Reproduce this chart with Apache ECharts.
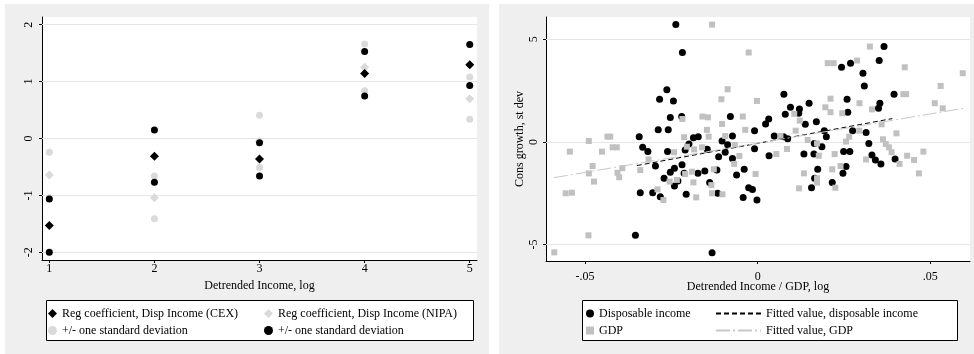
<!DOCTYPE html>
<html>
<head>
<meta charset="utf-8">
<script src="https://cdn.jsdelivr.net/npm/echarts@6/dist/echarts.min.js"></script>
<style>
  html, body { margin: 0; padding: 0; background: #fff; }
  #chart { width: 974px; height: 354px; }
</style>
</head>
<body>
<div id="chart"></div>
<script>
// left panel: regression coefficients by income quintile
const levels = [1, 2, 3, 4, 5];
const cexCoef = [-1.53, -0.31, -0.36, 1.14, 1.295];
const cexUpper = [-1.065, 0.15, -0.076, 1.53, 1.65];
const cexLower = [-2.0, -0.77, -0.66, 0.745, 0.93];
const nipaCoef = [-0.64, -1.04, -0.05, 1.25, 0.70];
const nipaUpper = [-0.24, -0.66, 0.41, 1.66, 1.08];
const nipaLower = [-1.04, -1.41, -0.51, 0.84, 0.34];
const leftYTicks = [-2, -1, 0, 1, 2];

// right panel: scatter of consumption growth vs detrended income
const dispX = [-0.0237,-0.0218,-0.0263,-0.0284,-0.0244,-0.022,-0.0253,-0.0288,-0.0259,-0.0343,
  -0.0333,-0.0318,-0.0261,-0.0296,-0.0271,-0.0253,-0.0241,-0.0231,-0.0241,-0.0219,
  -0.0213,-0.034,-0.0304,-0.0282,-0.0207,-0.0354,-0.0132,-0.021,-0.0199,-0.0186,
  -0.0172,-0.0173,-0.0153,-0.0146,-0.0139,-0.0118,-0.0113,-0.0116,-0.0103,-0.0094,
  -0.0087,-0.0079,-0.0073,-0.0073,-0.0061,-0.0042,-0.0039,-0.0026,-0.0015,-0.0009,
  -0.0009,-0.0002,0.0023,0.0032,0.0033,0.0048,0.0076,0.008,0.0075,0.0087,
  0.0095,0.0121,0.0119,0.0138,0.0149,0.0134,0.0156,0.0163,0.0164,0.017,
  0.0174,0.0165,0.0186,0.0193,0.0199,0.0216,0.0243,0.0269,0.0259,0.0261,
  0.0249,0.0267,0.0256,0.0247,0.0275,0.0305,0.0309,0.0314,0.0322,0.0331,
  0.0341,0.0357,0.0352,0.0366,0.0354,0.035,0.0395,0.0398];
const dispY = [5.72,4.36,2.54,2.08,2.0,1.24,1.19,0.59,0.59,0.26,
  -0.26,-0.47,-0.46,-1.17,-1.77,-1.48,-1.28,-1.90,-2.15,-1.11,
  -1.53,-2.47,-2.47,-2.67,-2.55,-4.55,-5.40,-0.39,-0.10,0.21,
  0.26,-1.53,-1.41,-0.36,-1.97,-1.37,-0.72,-2.50,0.05,-0.50,
  -0.13,1.24,0.29,-0.80,-1.61,-2.70,-1.33,-2.23,-2.31,0.55,
  -0.33,-2.83,0.88,1.12,-0.67,0.29,2.33,1.35,0.26,0.16,
  1.69,1.61,1.40,0.86,1.89,-0.59,-2.23,-0.59,-0.07,0.99,
  -1.33,-1.77,-0.23,0.55,0.26,-1.97,3.64,3.84,2.08,1.45,
  -0.47,-0.47,-1.20,-1.53,0.55,3.35,2.73,0.46,-0.07,-0.63,
  -0.88,-1.07,3.97,4.65,1.89,1.64,2.33,-0.83];
const gdpX = [-0.0589,-0.049,-0.0132,-0.0026,0.0325,0.0203,0.022,0.0288,0.0426,0.0594,
  0.053,0.0422,0.043,0.0513,0.0536,0.0331,0.0295,0.0211,0.0196,0.0211,
  0.0245,0.0359,0.0402,0.0294,0.0265,0.0256,0.0363,0.0371,0.038,0.0388,
  0.0433,0.0453,0.048,0.0411,0.0467,0.0314,0.0223,0.0216,0.024,0.0225,
  0.0172,0.0172,0.0177,0.0145,0.0172,0.0134,0.012,0.011,0.0106,0.0122,
  0.0066,0.0054,0.0085,-0.0006,-0.0002,-0.0036,-0.0043,-0.0053,-0.0068,-0.0066,
  -0.0087,-0.0105,-0.0103,-0.0094,-0.0102,-0.0127,-0.0134,-0.0132,-0.0144,-0.016,
  -0.0147,-0.0142,-0.0161,-0.0184,-0.019,-0.0186,-0.0178,-0.021,-0.0213,-0.0205,
  -0.0218,-0.0242,-0.0234,-0.0255,-0.0273,-0.029,-0.0316,-0.034,-0.0408,-0.042,
  -0.0427,-0.0435,-0.0451,-0.0478,-0.0489,-0.0474,-0.0489,-0.0544,-0.0556,-0.0538,
  -0.0392,-0.0406,-0.0401];
const gdpY = [-5.38,-4.55,5.72,4.36,4.65,3.84,3.84,3.97,3.64,3.35,
  2.73,2.33,2.33,1.89,1.64,1.59,1.89,2.11,1.69,1.45,
  1.40,0.86,0.42,0.55,0.26,0.02,0.13,-0.10,-0.26,-0.50,
  -0.67,-0.88,-0.47,-1.07,-1.53,-0.85,-0.59,-1.33,-1.17,-2.23,
  -1.77,-1.98,-0.67,0.10,-0.07,-1.53,-2.26,0.55,1.37,1.04,
  0.29,-0.59,-0.34,-1.56,2.00,0.59,1.24,-0.68,-1.07,-0.15,
  2.57,2.08,0.88,0.29,-2.55,-1.33,-2.10,-2.50,1.20,1.24,
  0.59,0.26,-0.26,-0.36,-1.45,-1.97,-2.70,-1.56,0.23,-0.23,
  1.12,-0.50,-1.85,-1.93,-2.83,-2.31,-0.85,-1.37,-0.26,-0.26,
  0.26,0.26,-0.47,-1.17,-1.53,-1.93,0.05,-0.47,-2.50,-2.47,
  -1.28,-1.50,-1.72];
const fitDispX = [-0.035, 0.039];
const fitDispY = [-1.15, 1.14];
const fitGdpX = [-0.059, 0.0596];
const fitGdpY = [-1.74, 1.64];
const rightXTicks = [-0.05, 0, 0.05];
const rightYTicks = [-5, 0, 5];

const FONT = 'Liberation Serif';
const zip = (xs, ys) => xs.map((x, i) => [x, ys[i]]);

const chart = echarts.init(document.getElementById('chart'));

function gridLines(ticks) {
  return {
    silent: true, symbol: ['none', 'none'], label: {show: false}, z: 1,
    emphasis: {disabled: true},
    lineStyle: {color: '#e6e6e6', width: 1, type: 'solid', opacity: 1},
    data: ticks.map(v => ({yAxis: v}))
  };
}

function fmtDec(v) {
  if (v === 0) return '0';
  return (v < 0 ? '-' : '') + String(Math.abs(v)).replace(/^0/, '');
}

function mkAxis(grid, min, max, ticks, extra) {
  return Object.assign({
    gridIndex: grid, type: 'value', min: min, max: max,
    axisLine: {show: true, onZero: false, lineStyle: {color: '#000', width: 1}},
    axisTick: {show: true, length: 3, customValues: ticks, lineStyle: {color: '#000'}},
    splitLine: {show: false},
    nameMoveOverlap: false,
    nameTextStyle: {fontFamily: FONT, fontSize: 12, color: '#000'}
  }, extra);
}

const legendText = {fontFamily: FONT, fontSize: 12, color: '#000', lineHeight: 13};

chart.setOption({
  backgroundColor: '#fff',
  animation: false,
  textStyle: {fontFamily: FONT},
  graphic: {elements: [
    {type: 'rect', z: -10, shape: {x: 5, y: 4, width: 484, height: 350}, style: {fill: '#efefef'}},
    {type: 'rect', z: -10, shape: {x: 499, y: 4, width: 475, height: 350}, style: {fill: '#efefef'}},
    {type: 'rect', z: 1, shape: {x: 46.5, y: 300.5, width: 427, height: 40}, style: {fill: '#fff', stroke: '#000', lineWidth: 1}},
    {type: 'rect', z: 1, shape: {x: 582.5, y: 300.5, width: 375, height: 40}, style: {fill: '#fff', stroke: '#000', lineWidth: 1}}
  ]},
  grid: [
    {left: 42, top: 17, width: 435, height: 243, show: true, backgroundColor: '#fff', borderWidth: 0},
    {left: 546, top: 17, width: 424, height: 244, show: true, backgroundColor: '#fff', borderWidth: 0}
  ],
  xAxis: [
    mkAxis(0, 0.9305, 5.069, levels, {
      name: 'Detrended Income, log', nameLocation: 'middle', nameGap: 20,
      axisLabel: {customValues: levels, fontFamily: FONT, fontSize: 12, color: '#000', margin: 3}
    }),
    mkAxis(1, -0.0613, 0.0615, rightXTicks, {
      name: 'Detrended Income / GDP, log', nameLocation: 'middle', nameGap: 20,
      axisLabel: {customValues: rightXTicks, formatter: fmtDec, fontFamily: FONT, fontSize: 12, color: '#000', margin: 10}
    })
  ],
  yAxis: [
    mkAxis(0, -2.135, 2.135, leftYTicks, {
      axisLabel: {customValues: leftYTicks, rotate: 90, fontFamily: FONT, fontSize: 12, color: '#000', margin: 7}
    }),
    mkAxis(1, -5.8, 6.09, rightYTicks, {
      name: 'Cons growth, st dev', nameLocation: 'middle', nameGap: 20,
      axisLabel: {customValues: rightYTicks, rotate: 90, fontFamily: FONT, fontSize: 12, color: '#000', margin: 6}
    })
  ],
  legend: [
    {left: 48, top: 307, padding: 0, orient: 'vertical', itemGap: 4, itemWidth: 9, itemHeight: 9,
     data: ['cex', 'sdNipa'], selectedMode: false,
     formatter: n => ({cex: 'Reg coefficient, Disp Income (CEX)', sdNipa: '+/- one standard deviation'})[n],
     textStyle: legendText},
    {left: 264, top: 307, padding: 0, orient: 'vertical', itemGap: 4, itemWidth: 9, itemHeight: 9,
     data: ['nipa', 'sdCex'], selectedMode: false,
     formatter: n => ({nipa: 'Reg coefficient, Disp Income (NIPA)', sdCex: '+/- one standard deviation'})[n],
     textStyle: legendText},
    {left: 586, top: 307, padding: 0, orient: 'vertical', itemGap: 4, itemWidth: 8, itemHeight: 8,
     data: ['Disposable income', 'GDP'], selectedMode: false,
     textStyle: legendText},
    {left: 715, top: 307, padding: 0, orient: 'vertical', itemGap: 4, itemWidth: 45, itemHeight: 9,
     data: ['Fitted value, disposable income', 'Fitted value, GDP'], selectedMode: false,
     itemStyle: {opacity: 0},
     textStyle: legendText}
  ],
  series: [
    {name: 'sdNipa', type: 'scatter', xAxisIndex: 0, yAxisIndex: 0, z: 2,
     symbol: 'circle', symbolSize: 7, itemStyle: {color: '#dadada', opacity: 1},
     markLine: gridLines(leftYTicks),
     data: zip(levels, nipaUpper).concat(zip(levels, nipaLower))},
    {name: 'nipa', type: 'scatter', xAxisIndex: 0, yAxisIndex: 0, z: 3,
     symbol: 'diamond', symbolSize: 9, itemStyle: {color: '#dadada', opacity: 1},
     data: zip(levels, nipaCoef)},
    {name: 'cex', type: 'scatter', xAxisIndex: 0, yAxisIndex: 0, z: 4,
     symbol: 'diamond', symbolSize: 9, itemStyle: {color: '#000', opacity: 1},
     data: zip(levels, cexCoef)},
    {name: 'sdCex', type: 'scatter', xAxisIndex: 0, yAxisIndex: 0, z: 5,
     symbol: 'circle', symbolSize: 7, itemStyle: {color: '#000', opacity: 1},
     data: zip(levels, cexUpper).concat(zip(levels, cexLower))},

    {name: 'Disposable income', type: 'scatter', xAxisIndex: 1, yAxisIndex: 1, z: 2,
     symbol: 'circle', symbolSize: 7, itemStyle: {color: '#000', opacity: 1},
     markLine: gridLines(rightYTicks),
     data: zip(dispX, dispY)},
    {name: 'GDP', type: 'scatter', xAxisIndex: 1, yAxisIndex: 1, z: 3,
     symbol: 'rect', symbolSize: 6, itemStyle: {color: '#c0c0c0', opacity: 1},
     data: zip(gdpX, gdpY)},
    {name: 'Fitted value, disposable income', type: 'line', xAxisIndex: 1, yAxisIndex: 1, z: 4,
     symbol: 'none', showSymbol: false, itemStyle: {color: '#000'},
     lineStyle: {color: '#000', width: 1, type: [5, 3]},
     data: zip(fitDispX, fitDispY)},
    {name: 'Fitted value, GDP', type: 'line', xAxisIndex: 1, yAxisIndex: 1, z: 4,
     symbol: 'none', showSymbol: false, itemStyle: {color: '#c8c8c8'},
     lineStyle: {color: '#c8c8c8', width: 1, type: [14, 3, 2, 3]},
     data: zip(fitGdpX, fitGdpY)}
  ]
});
</script>
</body>
</html>
